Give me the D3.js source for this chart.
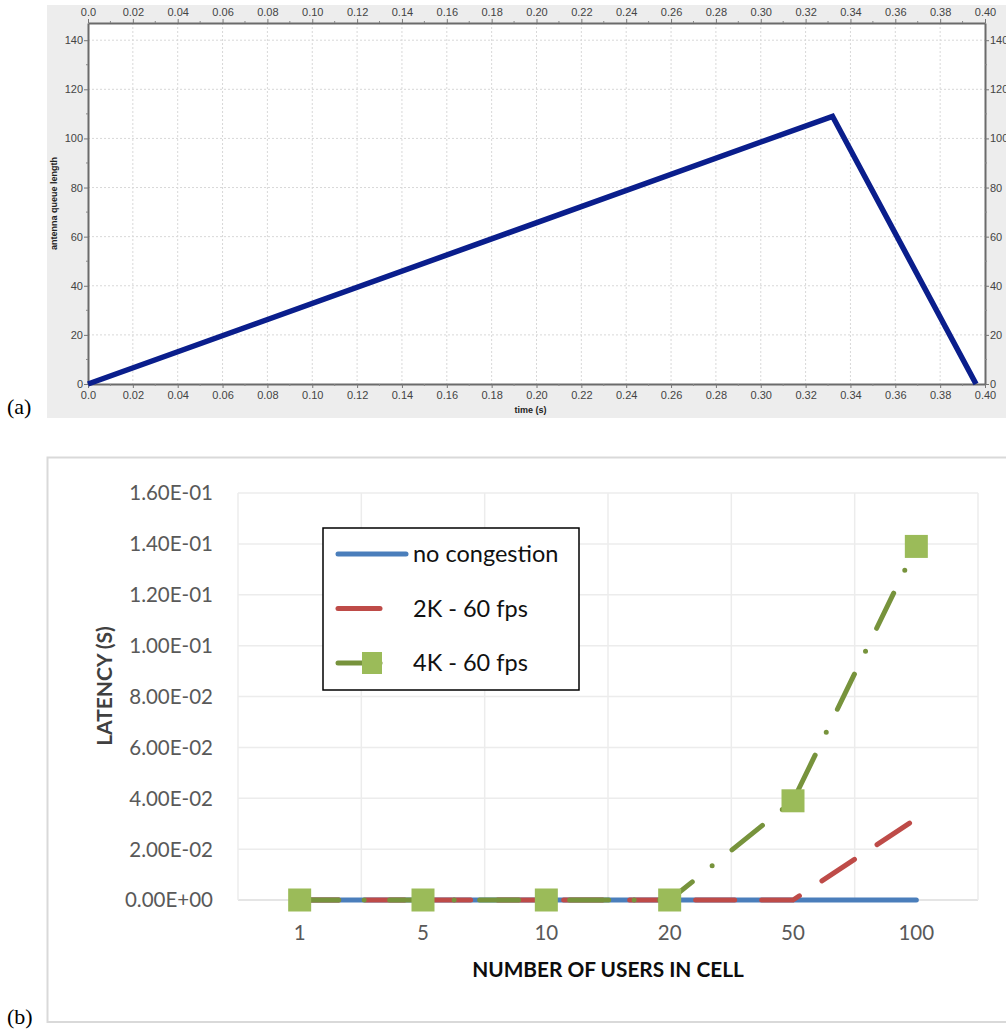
<!DOCTYPE html>
<html>
<head>
<meta charset="utf-8">
<script src="https://cdn.jsdelivr.net/npm/d3@7"></script>
<style>
  body { margin: 0; background: #fff; }
  svg { display: block; }
</style>
</head>
<body>
<svg id="chart" width="1006" height="1029"></svg>
<script>
// ---- panel (a): antenna queue length over time
const queueTime = [0, 0.332, 0.396];
const queueLen = [0, 109, 0];
const timeTicks = [0, 0.02, 0.04, 0.06, 0.08, 0.10, 0.12, 0.14, 0.16, 0.18, 0.20,
  0.22, 0.24, 0.26, 0.28, 0.30, 0.32, 0.34, 0.36, 0.38, 0.40];
const timeLabels = ["0.0", "0.02", "0.04", "0.06", "0.08", "0.10", "0.12", "0.14", "0.16", "0.18", "0.20",
  "0.22", "0.24", "0.26", "0.28", "0.30", "0.32", "0.34", "0.36", "0.38", "0.40"];
const timeMinor = [0.01, 0.03, 0.05, 0.07, 0.09, 0.11, 0.13, 0.15, 0.17, 0.19,
  0.21, 0.23, 0.25, 0.27, 0.29, 0.31, 0.33, 0.35, 0.37, 0.39];
const queueTicks = [0, 20, 40, 60, 80, 100, 120, 140];
const queueMinor = [10, 30, 50, 70, 90, 110, 130];

// ---- panel (b): latency vs users in cell
const users = ["1", "5", "10", "20", "50", "100"];
const noCongestion = [0, 0, 0, 0, 0, 0];
const k2fps60 = [0, 0, 0, 0, 0, 0.032];
const k4fps60 = [0, 0, 0, 0, 0.039, 0.139];
const latencyTicks = [0, 0.02, 0.04, 0.06, 0.08, 0.10, 0.12, 0.14, 0.16];
const latencyLabels = ["0.00E+00", "2.00E-02", "4.00E-02", "6.00E-02", "8.00E-02",
  "1.00E-01", "1.20E-01", "1.40E-01", "1.60E-01"];
const seriesNames = ["no congestion", "2K - 60 fps", "4K - 60 fps"];

const svg = d3.select("#chart");

// ================= (a)
const a = svg.append("g");
a.append("rect").attr("x", 47).attr("y", 5).attr("width", 959).attr("height", 413).attr("fill", "#ededed");

const ax = d3.scaleLinear().domain([0, 0.4]).range([88, 985]);
const ay = d3.scaleLinear().domain([0, 147]).range([384, 23]);

a.append("rect")
  .attr("x", ax(0)).attr("y", ay(147))
  .attr("width", ax(0.4) - ax(0)).attr("height", ay(0) - ay(147))
  .attr("fill", "#fff");

a.append("g").selectAll("line")
  .data(timeTicks.slice(1, -1))
  .join("line")
  .attr("x1", d => ax(d)).attr("x2", d => ax(d))
  .attr("y1", ay(147)).attr("y2", ay(0))
  .attr("stroke", "#d8d8d8").attr("stroke-dasharray", "2,2");

a.append("g").selectAll("line")
  .data(queueTicks.slice(1))
  .join("line")
  .attr("x1", ax(0)).attr("x2", ax(0.4))
  .attr("y1", d => ay(d)).attr("y2", d => ay(d))
  .attr("stroke", "#d8d8d8").attr("stroke-dasharray", "2,2");

function styleAxis(g) {
  g.select(".domain").attr("stroke", "#6b6b6b").attr("stroke-width", 2);
  g.selectAll(".tick line").attr("stroke", "#777");
  g.selectAll("text").attr("fill", "#444").style("font", "11px 'Liberation Sans', Arial, sans-serif");
}

const fmtTime = (d, i) => timeLabels[i];
a.append("g").attr("transform", `translate(0,${ay(0)})`)
  .call(d3.axisBottom(ax).tickValues(timeTicks).tickFormat(fmtTime).tickSize(4).tickSizeOuter(0))
  .call(styleAxis);
a.append("g").attr("transform", `translate(0,${ay(147)})`)
  .call(d3.axisTop(ax).tickValues(timeTicks).tickFormat(fmtTime).tickSize(4).tickSizeOuter(0))
  .call(styleAxis);
a.append("g").attr("transform", `translate(${ax(0)},0)`)
  .call(d3.axisLeft(ay).tickValues(queueTicks).tickSize(4).tickPadding(1).tickSizeOuter(0))
  .call(styleAxis);
a.append("g").attr("transform", `translate(${ax(0.4)},0)`)
  .call(d3.axisRight(ay).tickValues(queueTicks).tickSize(4).tickPadding(1).tickSizeOuter(0))
  .call(styleAxis);

// minor ticks
const minor = a.append("g").attr("stroke", "#888");
minor.selectAll(".mx").data(timeMinor).join("line").attr("class", "mx")
  .attr("x1", d => ax(d)).attr("x2", d => ax(d)).attr("y1", ay(0)).attr("y2", ay(0) + 2);
minor.selectAll(".mxt").data(timeMinor).join("line").attr("class", "mxt")
  .attr("x1", d => ax(d)).attr("x2", d => ax(d)).attr("y1", ay(147)).attr("y2", ay(147) - 2);
minor.selectAll(".my").data(queueMinor).join("line").attr("class", "my")
  .attr("x1", ax(0)).attr("x2", ax(0) - 2).attr("y1", d => ay(d)).attr("y2", d => ay(d));
minor.selectAll(".myr").data(queueMinor).join("line").attr("class", "myr")
  .attr("x1", ax(0.4)).attr("x2", ax(0.4) + 2).attr("y1", d => ay(d)).attr("y2", d => ay(d));

const queueLine = d3.line()
  .x((d, i) => ax(queueTime[i]))
  .y(d => ay(d));

a.append("path")
  .datum(queueLen)
  .attr("d", queueLine)
  .attr("fill", "none")
  .attr("stroke", "#0a1e8c")
  .attr("stroke-width", 5.5)
  .attr("stroke-linejoin", "miter");

a.append("text")
  .attr("x", (ax(0) + ax(0.4)) / 2 - 6).attr("y", 413)
  .attr("text-anchor", "middle")
  .style("font", "bold 9px 'Liberation Sans', Arial, sans-serif")
  .attr("fill", "#222")
  .text("time (s)");

a.append("text")
  .attr("transform", `translate(57,${(ay(0) + ay(147)) / 2}) rotate(-90)`)
  .attr("text-anchor", "middle")
  .style("font", "bold 9px 'Liberation Sans', Arial, sans-serif")
  .attr("fill", "#222")
  .text("antenna queue length");

svg.append("text").attr("x", 7).attr("y", 414)
  .style("font", "22px 'Liberation Serif', 'DejaVu Serif', serif")
  .text("(a)");

// ================= (b)
const b = svg.append("g");
b.append("rect")
  .attr("x", 47.5).attr("y", 457.5).attr("width", 970).attr("height", 564.5)
  .attr("fill", "#fff").attr("stroke", "#d9d9d9").attr("stroke-width", 2);

const bx = d3.scaleBand().domain(users).range([238, 978]);
const by = d3.scaleLinear().domain([0, 0.16]).range([900, 493]);
const cx = u => bx(u) + bx.bandwidth() / 2;

b.append("g").selectAll("line")
  .data(latencyTicks)
  .join("line")
  .attr("x1", 238).attr("x2", 978)
  .attr("y1", d => by(d)).attr("y2", d => by(d))
  .attr("stroke", d => d === 0 ? "#dcdcdc" : "#ececec").attr("stroke-width", 1.5);

b.append("g").selectAll("line")
  .data(users.concat(["end"]))
  .join("line")
  .attr("x1", (d, i) => 238 + i * bx.bandwidth()).attr("x2", (d, i) => 238 + i * bx.bandwidth())
  .attr("y1", by(0.16)).attr("y2", by(0))
  .attr("stroke", "#ececec").attr("stroke-width", 1.5);

const fontB = "'Lato', 'Open Sans', sans-serif";

b.append("g").selectAll("text")
  .data(latencyTicks)
  .join("text")
  .attr("x", 213).attr("y", d => by(d))
  .attr("dy", "0.36em")
  .attr("text-anchor", "end")
  .attr("fill", "#595959")
  .style("font", `20.5px ${fontB}`)
  .text((d, i) => latencyLabels[i]);

b.append("g").selectAll("text")
  .data(users)
  .join("text")
  .attr("x", d => cx(d)).attr("y", 933)
  .attr("dy", "0.36em")
  .attr("text-anchor", "middle")
  .attr("fill", "#595959")
  .style("font", `20.5px ${fontB}`)
  .text(d => d);

b.append("text")
  .attr("x", 608).attr("y", 970).attr("dy", "0.36em")
  .attr("text-anchor", "middle")
  .attr("fill", "#0d0d0d")
  .style("font", `bold 20.8px ${fontB}`)
  .text("NUMBER OF USERS IN CELL");

b.append("text")
  .attr("transform", `translate(104,686) rotate(-90)`)
  .attr("dy", "0.36em")
  .attr("text-anchor", "middle")
  .attr("fill", "#404040")
  .style("font", `bold 21px ${fontB}`)
  .text("LATENCY (S)");

const series = [
  { name: seriesNames[0], values: noCongestion, color: "#4a7ebb", dash: null },
  { name: seriesNames[1], values: k2fps60, color: "#be4b48", dash: "39,27" },
  { name: seriesNames[2], values: k4fps60, color: "#77933c", dash: "39,25.5,0,25.5" }
];

const latencyLine = d3.line()
  .x((d, i) => cx(users[i]))
  .y(d => by(d));

b.append("g").selectAll("path")
  .data(series)
  .join("path")
  .attr("d", d => latencyLine(d.values))
  .attr("fill", "none")
  .attr("stroke", d => d.color)
  .attr("stroke-width", 5)
  .attr("stroke-linecap", "round")
  .attr("stroke-dasharray", d => d.dash);

b.append("g").selectAll("rect")
  .data(k4fps60)
  .join("rect")
  .attr("x", (d, i) => cx(users[i]) - 11.5)
  .attr("y", d => by(d) - 11.5)
  .attr("width", 23).attr("height", 23)
  .attr("fill", "#9bbb59");

// legend
const legend = b.append("g");
legend.append("rect")
  .attr("x", 323).attr("y", 528).attr("width", 256).attr("height", 162)
  .attr("fill", "#fff").attr("stroke", "#000").attr("stroke-width", 1.5);

const rows = legend.selectAll(".row")
  .data(series)
  .join("g")
  .attr("class", "row")
  .attr("transform", (d, i) => `translate(0,${554 + i * 54.5})`);

rows.append("line")
  .attr("x1", 338).attr("x2", 406)
  .attr("stroke", d => d.color)
  .attr("stroke-width", 5)
  .attr("stroke-linecap", "round")
  .attr("stroke-dasharray", d => d.dash ? "42,26" : null);

rows.filter((d, i) => i === 2).append("rect")
  .attr("x", 362).attr("y", -11).attr("width", 20).attr("height", 22)
  .attr("fill", "#9bbb59");

rows.append("text")
  .attr("x", 413).attr("dy", "0.36em")
  .attr("fill", "#111")
  .style("font", `23.5px ${fontB}`)
  .text(d => d.name);

svg.append("text").attr("x", 7).attr("y", 1024)
  .style("font", "22px 'Liberation Serif', 'DejaVu Serif', serif")
  .text("(b)");
</script>
</body>
</html>
